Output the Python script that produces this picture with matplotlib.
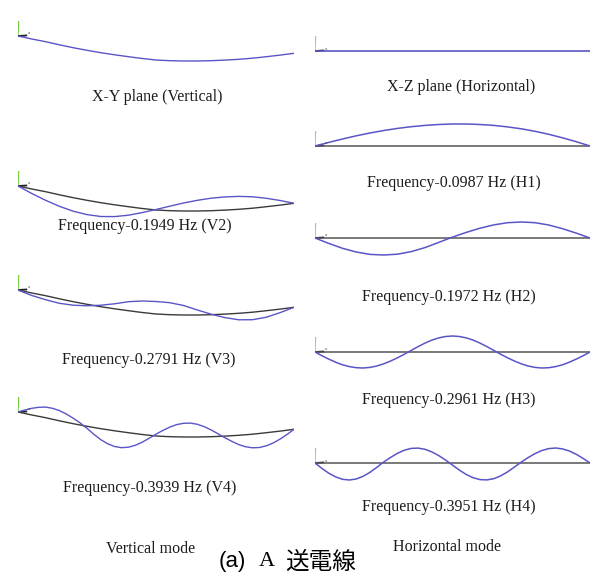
import numpy as np
import matplotlib.pyplot as plt

W, H = 594, 575

# span positions along the conductor (0 = left support, 1 = right support)
span21 = np.linspace(0, 1, 21)
span41 = np.linspace(0, 1, 41)

# static sag of the conductor in the vertical plane (px, downward)
static_sag21 = [0, 3, 5.7, 8.8, 11.7, 14.3, 16.7, 18.8, 20.7, 22.5, 24, 24.7, 25, 25,
                24.7, 24.1, 23.3, 22.2, 20.7, 19.1, 17.3]

# vertical modes, deformed shape (px, downward)
v2_shape = [0, 7.5, 14.3, 20.3, 25.2, 28.6, 30.5, 30.6, 29.2, 26.6, 23.5, 20.2, 17,
            14.3, 12.2, 10.9, 10.4, 10.8, 12.3, 14.5, 17.3]
v3_shape = [0, 5.5, 9.7, 13.3, 15.2, 15.8, 15.2, 13.8, 11.7, 11, 11.5, 12.7, 15.5, 20,
            24.2, 27.6, 29.8, 29.7, 27.2, 22.6, 17.3]
v4_shape = [0, -2, -3.7, -4.7, -4.9, -3.7, -1.4, 2, 6.2, 10.9, 16.3, 22.3, 27.7, 31.8,
            34.5, 35.7, 35.2, 33.3, 30.2, 26.3, 22.2, 18.4, 15.1, 12.6, 11.3, 11.1, 12.3,
            14.7, 18, 21.8, 25.8, 29.4, 32.6, 34.8, 35.8, 35.5, 33.8, 30.9, 27, 22.4, 17.3]

# horizontal modes, lateral displacement (px, upward)
xz_span = [0, 1]
xz_shape = [0, 0]
h1_shape = [0, 3.6, 7, 10.2, 13, 15.5, 17.6, 19.3, 20.6, 21.5, 22, 22, 21.5, 20.6, 19.1,
            17.2, 14.7, 11.7, 8.2, 4.3, 0]
h2_shape = [0, -5.4, -10.3, -14, -16.4, -17, -16.2, -13.6, -9.6, -4.4, 0.9, 5.6, 9.8,
            13.1, 15.3, 16, 15.3, 13, 9.3, 4.9, 0]
h3_shape = [0, -3.7, -7.1, -10.2, -12.8, -14.6, -15.7, -16, -15.4, -14, -11.8, -9, -5.8,
            -2.2, 1.6, 5.4, 8.9, 11.9, 14.1, 15.5, 16, 15.5, 14.1, 11.9, 8.9, 5.4, 1.6,
            -2.2, -5.8, -9, -11.8, -14, -15.4, -16, -15.7, -14.6, -12.8, -10.2, -7.1,
            -3.7, 0]
h4_shape = [0, -5.4, -10.2, -13.9, -16.3, -17, -16, -13.3, -9.3, -4.3, 1, 5.6, 9.7,
            12.8, 14.6, 14.9, 13.7, 11.1, 7.4, 2.9, -2.1, -7.1, -11.5, -14.7, -16.6,
            -16.9, -15.7, -12.9, -8.9, -4.1, 0.9, 5.4, 9.4, 12.5, 14.4, 15, 14.1, 12,
            8.7, 4.6, 0]

captions_v = ["X-Y plane (Vertical)", "Frequency-0.1949 Hz (V2)",
              "Frequency-0.2791 Hz (V3)", "Frequency-0.3939 Hz (V4)"]
captions_h = ["X-Z plane (Horizontal)", "Frequency-0.0987 Hz (H1)",
              "Frequency-0.1972 Hz (H2)", "Frequency-0.2961 Hz (H3)",
              "Frequency-0.3951 Hz (H4)"]

MODE = "#5a55c6"
CABLE = "#3a3a3a"
SERIF = "Liberation Serif"

fig = plt.figure(figsize=(W / 100, H / 100), dpi=100)
fig.patch.set_facecolor("white")


def panel(x0, x1, y_anchor, down, axis_color):
    """Axes in which one data unit equals one pixel vertically."""
    top, bot = 30, 45
    ax = fig.add_axes([x0 / W, 1 - (y_anchor + bot) / H, (x1 - x0) / W, (top + bot) / H])
    ax.set_xlim(0, 1)
    if down:
        ax.set_ylim(bot, -top)
    else:
        ax.set_ylim(-bot, top)
    ax.axis("off")
    # little coordinate triad at the left support
    up = -1 if down else 1
    ax.plot([0, 0.002], [0, 15 * up], color=axis_color, lw=1.0, solid_capstyle="butt")
    ax.plot([0, 0.03], [0, 0.5 * up], color="#222222", lw=1.3)
    ax.text(0.035, 2.5 * up, "x", fontsize=3, color="#444444", ha="left", va="center")
    return ax


def caption(x, y, s, size=11.5):
    fig.text(x / W, 1 - y / H, s, ha="center", va="center", fontsize=size,
             family=SERIF, color="#1c1c1c")


# vertical plane (left column)
ax = panel(18, 294, 36, True, "#6fcf3a")
ax.plot(span21, static_sag21, color=MODE, lw=1.0)

for y_anchor, shape in [(186, v2_shape), (290, v3_shape), (412, v4_shape)]:
    ax = panel(18, 294, y_anchor, True, "#6fcf3a")
    ax.plot(span21, static_sag21, color=CABLE, lw=1.0)
    sp = span41 if len(shape) == 41 else span21
    ax.plot(sp, shape, color=MODE, lw=1.0)

# horizontal plane (right column)
ax = panel(315, 590, 51, False, "#8ec3e6")
ax.plot(xz_span, xz_shape, color=MODE, lw=1.2)

for y_anchor, shape in [(146, h1_shape), (238, h2_shape), (352, h3_shape), (463, h4_shape)]:
    ax = panel(315, 590, y_anchor, False, "#8ec3e6")
    ax.plot(xz_span, xz_shape, color="#555555", lw=1.1)
    sp = span41 if len(shape) == 41 else span21
    ax.plot(sp, shape, color=MODE, lw=1.1)

for (x, y), s in zip([(157, 97), (145, 226), (149, 360), (150, 488)], captions_v):
    caption(x, y, s)
caption(151, 549, "Vertical mode")

for (x, y), s in zip([(461, 87), (454, 183), (449, 297), (449, 400), (449, 507)], captions_h):
    caption(x, y, s)
caption(447, 547, "Horizontal mode")

fig.text(219 / W, 1 - 562 / H, "(a)", ha="left", va="center", fontsize=16,
         family="Liberation Sans", color="black")
fig.text(259 / W, 1 - 562 / H, "A", ha="left", va="center", fontsize=16,
         family=SERIF, color="black")
fig.text(285 / W, 1 - 562 / H, "送電線", ha="left", va="center", fontsize=17,
         family=["Noto Sans CJK JP", "DejaVu Sans"], color="black")

fig.savefig("out.png", dpi=100, facecolor="white")
